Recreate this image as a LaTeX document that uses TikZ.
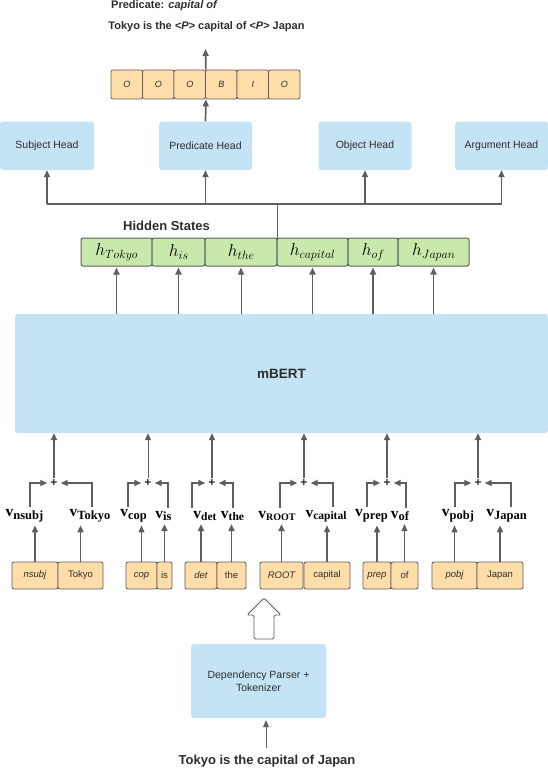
\documentclass[tikz,border=0pt]{standalone}
\usepackage{fontspec}
\setmainfont{Liberation Sans}
\newfontfamily\vserif{Liberation Serif}
\usetikzlibrary{arrows.meta,calc}
\definecolor{lblue}{RGB}{196,228,246}
\definecolor{lorange}{RGB}{255,221,168}
\definecolor{lgreen}{RGB}{200,232,172}
\definecolor{edgec}{RGB}{94,94,94}
\definecolor{txt}{RGB}{45,45,45}
\newcommand\vlab[2][12.5]{{\vserif\bfseries\fontsize{15.5}{15.5}\selectfont v}\raisebox{-2.5pt}{\vserif\bfseries\fontsize{#1}{#1}\selectfont #2}}
\newcommand\hlab[1]{{\fontsize{16.5}{16.5}\selectfont$h$}\raisebox{-3.5pt}{\fontsize{12.5}{12.5}\selectfont$#1$}}
\tikzset{
  bluebox/.style={fill=lblue, rounded corners=3pt, inner sep=0pt, text=txt, align=center, font=\fontsize{10.5}{13}\selectfont},
  orbox/.style={fill=lorange, draw=edgec, line width=0.8pt, rounded corners=2pt, inner sep=0pt, text=txt, minimum height=27pt, font=\fontsize{9.5}{11}\selectfont},
  tagbox/.style={fill=lorange, draw=edgec, line width=0.8pt, rounded corners=2pt, inner sep=0pt, text=txt, minimum width=31.5pt, minimum height=29pt, font=\fontsize{9}{11}\selectfont\itshape},
  grbox/.style={fill=lgreen, draw=edgec, line width=1pt, rounded corners=2pt, inner sep=0pt, minimum height=28pt},
  arr/.style={-{Triangle[length=7pt,width=6pt]}, draw=edgec, line width=1.7pt},
  tarr/.style={-{Triangle[length=7pt,width=6pt]}, draw=edgec, line width=0.9pt},
  ln/.style={draw=edgec, line width=1.7pt},
  plusn/.style={inner sep=1pt, font=\fontsize{12}{12}\selectfont\bfseries, text=txt},
  vl/.style={inner sep=0pt, text=black},
}
\begin{document}
\begin{tikzpicture}[x=1pt,y=-1pt]
\useasboundingbox (0,0) rectangle (548,768);
% top texts
\node[anchor=west, inner sep=0pt, font=\fontsize{11}{11}\selectfont\bfseries, text=txt] (pred) at (111,6) {Predicate: \textit{capital of}};
\node[inner sep=0pt, font=\fontsize{11}{11}\selectfont\bfseries, text=txt] (sent) at (206.5,27) {Tokyo is the \textit{<P>} capital of \textit{<P>} Japan};
% tag boxes
\foreach \i/\t in {1/O,2/O,3/O,4/B,5/I,6/O}{
  \node[tagbox] (t\i) at ({111+15.75+(\i-1)*31.5},84.5) {\t};
}
\coordinate (ttop) at (205.5,49);
\draw[arr] (t3.north east) -- (ttop);
% heads
\node[bluebox, minimum width=94pt, minimum height=48.5pt] (subj) at (47,145.75) {Subject Head};
\node[bluebox, minimum width=93pt, minimum height=48.5pt] (phead) at (205.5,145.75) {Predicate Head};
\node[bluebox, minimum width=93pt, minimum height=48.5pt] (obj) at (365,145.75) {Object Head};
\node[bluebox, minimum width=93pt, minimum height=48.5pt] (arg) at (501.5,145.75) {Argument Head};
\draw[arr] (phead.north) -- (t3.south east);
% hidden states
\node[inner sep=0pt, font=\fontsize{13}{13}\selectfont\bfseries, text=txt] (hs) at (166.5,226) {Hidden States};
\node[grbox, minimum width=71pt] (h1) at (116.5,252) {\hlab{Tokyo}};
\node[grbox, minimum width=53pt] (h2) at (178.5,252) {\hlab{is}};
\node[grbox, minimum width=72pt] (h3) at (241,252) {\hlab{the}};
\node[grbox, minimum width=71pt] (h4) at (312.5,252) {\hlab{capital}};
\node[grbox, minimum width=50pt] (h5) at (373,252) {\hlab{of}};
\node[grbox, minimum width=71pt] (h6) at (433.5,252) {\hlab{Japan}};
\coordinate (br) at (278,204);
\draw[ln] (h3.north east) -- (h3.north east |- br);
\draw[ln] (subj.south |- br) -- (arg.south |- br);
\foreach \hd in {subj,phead,obj,arg}{ \draw[arr] (\hd.south |- br) -- (\hd.south); }
% mBERT
\node[fill=lblue, rounded corners=3pt, minimum width=533pt, minimum height=119pt, inner sep=0pt, font=\fontsize{13.5}{13.5}\selectfont\bfseries, text=txt] (mbert) at (281.5,373.5) {mBERT};
\foreach \h in {h1,h2,h4,h5,h6}{ \draw[arr] (\h.south |- mbert.north) -- ([yshift=-1pt]\h.south); }
\draw[tarr] (h3.south |- mbert.north) -- ([yshift=-1pt]h3.south);
% bottom token boxes
\node[orbox, minimum width=46pt, font=\fontsize{9.5}{11}\selectfont\itshape] (b1) at (35,575.5) {nsubj};
\node[orbox, minimum width=45pt] (b2) at (80.5,575.5) {Tokyo};
\node[orbox, minimum width=31pt, font=\fontsize{9.5}{11}\selectfont\itshape] (b3) at (141.5,575.5) {cop};
\node[orbox, minimum width=15pt] (b4) at (164.5,575.5) {is};
\node[orbox, minimum width=32pt, font=\fontsize{9.5}{11}\selectfont\itshape] (b5) at (201,575.5) {det};
\node[orbox, minimum width=29pt] (b6) at (231.5,575.5) {the};
\node[orbox, minimum width=43pt, font=\fontsize{9.5}{11}\selectfont\itshape] (b7) at (281.5,575.5) {ROOT};
\node[orbox, minimum width=46pt] (b8) at (327,575.5) {capital};
\node[orbox, minimum width=28pt, font=\fontsize{9.5}{11}\selectfont\itshape] (b9) at (377,575.5) {prep};
\node[orbox, minimum width=27pt] (b10) at (404.5,575.5) {of};
\node[orbox, minimum width=45pt, font=\fontsize{9.5}{11}\selectfont\itshape] (b11) at (454.5,575.5) {pobj};
\node[orbox, minimum width=46pt] (b12) at (500,575.5) {Japan};
% v labels
\node[vl] (v1) at (24.5,516) {\vlab{nsubj}};
\node[vl] (v2) at (90,516) {\vlab{Tokyo}};
\node[vl] (v3) at (133.5,516) {\vlab{cop}};
\node[vl] (v4) at (163.5,516) {\vlab{is}};
\node[vl] (v5) at (205,516) {\vlab[11.5]{det}};
\node[vl] (v6) at (232.5,516) {\vlab[11.5]{the}};
\node[vl] (v7) at (277,516) {\vlab[10]{ROOT}};
\node[vl] (v8) at (326,516) {\vlab[11.5]{capital}};
\node[vl] (v9) at (371.5,516) {\vlab{prep}};
\node[vl] (v10) at (400,516) {\vlab{of}};
\node[vl] (v11) at (458,516) {\vlab{pobj}};
\node[vl] (v12) at (506.5,516) {\vlab{Japan}};
% box -> label arrows
\foreach \i in {1,2,4,5,6,7,8,9,12}{ \draw[arr] (b\i.north) -- ([yshift=-3pt]b\i.north |- v\i.south); }
\foreach \i in {3,10,11}{ \draw[tarr] (b\i.north) -- ([yshift=-3pt]b\i.north |- v\i.south); }
% plus nodes
\node[plusn] (p1) at (54,483) {+};
\node[plusn] (p2) at (148,483) {+};
\node[plusn] (p3) at (212,483) {+};
\node[plusn] (p4) at (304,483) {+};
\node[plusn] (p5) at (387,483) {+};
\node[plusn] (p6) at (478,483) {+};
% branches label -> plus
\foreach \l/\r/\p/\dl/\dr in {v1/v2/p1/5.5/2, v3/v4/p2/-5.5/4.5, v5/v6/p3/-13/0.5, v7/v8/p4/3/7, v9/v10/p5/-4.5/6, v11/v12/p6/-3/4.5}{
  \draw[arr] ([xshift=\dl pt,yshift=3pt]\l.north) |- ([xshift=-2pt]\p.west);
  \draw[arr] ([xshift=\dr pt,yshift=3pt]\r.north) |- ([xshift=2pt]\p.east);
}
\foreach \p in {p1,p3,p4,p5,p6}{ \draw[arr] (\p.north) -- (\p.north |- mbert.south); }
\draw[tarr] (p2.north) -- (p2.north |- mbert.south);
% parser
\draw[draw=edgec, line width=0.9pt, rounded corners=1.5pt, fill=white] (254,639) -- (254,615) -- (247,615) -- (264,598) -- (281,615) -- (274,615) -- (274,639) -- cycle;
\node[bluebox, minimum width=135pt, minimum height=74pt] (dep) at (258.5,681) {Dependency Parser +\\Tokenizer};
\node[inner sep=0pt, font=\fontsize{13}{13}\selectfont\bfseries, text=txt] (input) at (267,761) {Tokyo is the capital of Japan};
\draw[tarr] ([xshift=7.5pt,yshift=7pt]input.north -| dep.south) -- ([xshift=7.5pt,yshift=-2pt]dep.south);
\end{tikzpicture}
\end{document}
